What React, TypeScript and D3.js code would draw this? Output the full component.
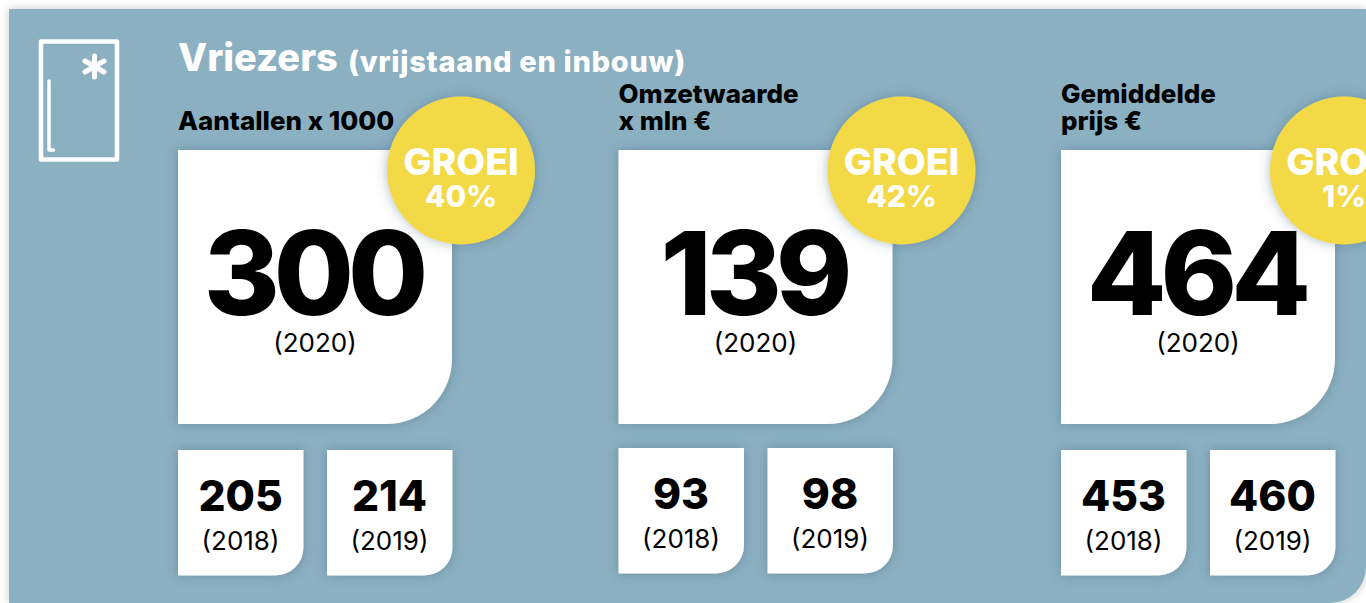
import React from "react";
import * as d3 from "d3";

const metricKeys = ["aantallen", "omzet", "prijs"];
const metricLabels = [["Aantallen x 1000"], ["Omzetwaarde", "x mln €"], ["Gemiddelde", "prijs €"]];
const values2020 = [300, 139, 464];
const values2019 = [214, 98, 460];
const values2018 = [205, 93, 453];
const growth = ["40%", "42%", "1%"];
const title = "Vriezers";
const subtitle = "(vrijstaand en inbouw)";

const W = 1366, H = 603;
const panelX = d3.scaleOrdinal<string, number>().domain(metricKeys).range([178, 618.5, 1061]);
const smallY = d3.scaleOrdinal<string, number>().domain(metricKeys).range([450, 448, 450]);
const FONT = "Inter, 'Noto Sans', sans-serif";
const SOFT = "Inter, 'Noto Sans', sans-serif";

function tilePath(x: number, y: number, w: number, h: number, r: number) {
  const p = d3.path();
  p.moveTo(x, y);
  p.lineTo(x + w, y);
  p.lineTo(x + w, y + h - r);
  p.arcTo(x + w, y + h, x + w - r, y + h, r);
  p.lineTo(x, y + h);
  p.closePath();
  return p.toString();
}

function Small({ x, y, v, year }: { x: number; y: number; v: number; year: string }) {
  return (
    <g>
      <path d={tilePath(x, y, 125.5, 125.5, 28)} fill="#fff" filter="url(#sh)" />
      <text x={x + 62.5} y={y + 61} textAnchor="middle" fontFamily={FONT} fontWeight={800} fontSize={42.5} fill="#000">{v}</text>
      <text x={x + 62.5} y={y + 100} textAnchor="middle" fontFamily={SOFT} fontWeight={400} fontSize={26} fill="#000">({year})</text>
    </g>
  );
}

export default function App() {
  return (
    <svg width={W} height={H} style={{ position: "absolute", left: 0, top: 0, display: "block" }}>
      <defs>
        <filter id="sh" x="-20%" y="-20%" width="140%" height="140%">
          <feDropShadow dx="0" dy="0" stdDeviation="6" floodColor="#3f6679" floodOpacity="0.45" />
        </filter>
        <filter id="panelSh" x="-5%" y="-5%" width="110%" height="110%">
          <feDropShadow dx="0" dy="0" stdDeviation="4" floodColor="#000" floodOpacity="0.22" />
        </filter>
      </defs>
      <rect width={W} height={H} fill="#fff" />
      <path d={`M9 9H1366V${H - 36}A36 36 0 0 1 1330 ${H}H9Z`} fill="#8bb0c2" filter="url(#panelSh)" />

      <g fill="none" stroke="#fff" strokeLinecap="round" strokeLinejoin="round">
        <rect x={41} y={41.5} width={76} height={118} strokeWidth={4.5} />
        <path d="M49 81V150H53.5" strokeWidth={3.5} />
        <path d="M94.5 56V77M85 61L104 72M104 61L85 72" strokeWidth={5} />
      </g>

      <text x={178} y={71} fontFamily={FONT} fontWeight={800} fontSize={38} fill="#fff">{title}</text>
      <text x={348} y={71.5} fontFamily={FONT} fontWeight={800} fontSize={29} letterSpacing={0.7} fill="#fff">{subtitle}</text>

      {metricKeys.map((k, i) => {
        const x = panelX(k);
        const sy = smallY(k);
        const lines = metricLabels[i];
        const cx = x + 283;
        return (
          <g key={k}>
            {lines.map((l, j) => (
              <text key={l} x={x} y={130 - (lines.length - 1 - j) * 27} fontFamily={FONT} fontWeight={800} fontSize={26} fill="#000">{l}</text>
            ))}
            <path d={tilePath(x, 150, 274, 274, 65)} fill="#fff" filter="url(#sh)" />
            <text x={x + 135} y={315} textAnchor="middle" fontFamily={FONT} fontWeight={800} fontSize={116} letterSpacing={-6} fill="#000">{values2020[i]}</text>
            <text x={x + 137} y={352} textAnchor="middle" fontFamily={SOFT} fontWeight={400} fontSize={26} fill="#000">(2020)</text>
            <circle cx={cx} cy={170.5} r={74} fill="#f3d945" filter="url(#sh)" />
            <text x={cx} y={175} textAnchor="middle" fontFamily={FONT} fontWeight={800} fontSize={37.5} fill="#fff">GROEI</text>
            <text x={cx} y={207} textAnchor="middle" fontFamily={FONT} fontWeight={800} fontSize={30} fill="#fff">{growth[i]}</text>
            <Small x={x} y={sy} v={values2018[i]} year="2018" />
            <Small x={x + 149} y={sy} v={values2019[i]} year="2019" />
          </g>
        );
      })}
    </svg>
  );
}
